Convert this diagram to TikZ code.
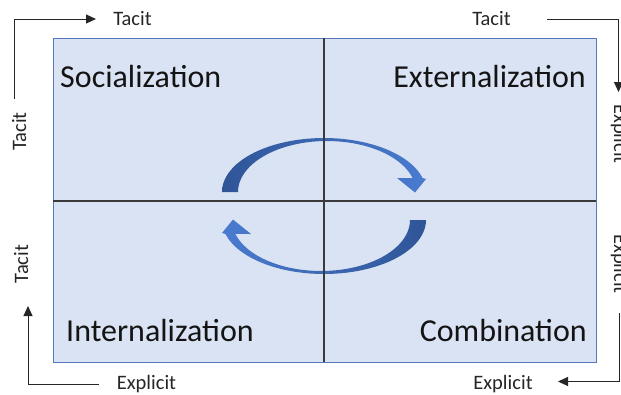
\documentclass[tikz,border=0pt]{standalone}
\usepackage{fontspec}
\setmainfont{Carlito}
\usetikzlibrary{arrows.meta}
\definecolor{boxfill}{HTML}{DAE3F3}
\definecolor{boxline}{HTML}{5478BA}
\definecolor{divline}{HTML}{3A3A3A}
\definecolor{darkblue}{HTML}{2F5597}
\definecolor{lightblue}{HTML}{4A7BD0}
\definecolor{txt}{HTML}{141414}
\definecolor{smalltxt}{HTML}{262626}
\begin{document}
\begin{tikzpicture}[x=1pt,y=-1pt,
  quadbox/.style={draw=boxline, fill=boxfill, line width=1pt, inner sep=0pt,
    minimum width=543pt, minimum height=324pt},
  divider/.style={draw=divline, line width=1.1pt},
  big/.style={inner sep=0pt, text=txt, font=\fontsize{32}{36}\selectfont},
  small/.style={inner sep=0pt, text=smalltxt, font=\fontsize{20.5}{24}\selectfont},
  conn/.style={draw=black!85, line width=1pt, -{Triangle[length=10pt,width=9pt]}}]
\useasboundingbox (0,0) rectangle (621,394);

% quadrant box
\node[quadbox] (box) at (324.5,200) {};

% cycle arrows
\shade[left color=darkblue, right color=lightblue]
  plot[domain=180:15, samples=50] ({324+102*cos(\x)},{192-54*sin(\x)})
  -- (426,179) -- (415,192.5) -- (397,178)
  -- plot[domain=15.9:180, samples=50] ({327+89*cos(\x)},{192-51*sin(\x)}) -- cycle;
\shade[left color=lightblue, right color=darkblue]
  plot[domain=180:15, samples=50] ({324-102*cos(\x)},{220+54*sin(\x)})
  -- (222,233) -- (233,219.5) -- (251,234)
  -- plot[domain=15.9:180, samples=50] ({321-89*cos(\x)},{220+51*sin(\x)}) -- cycle;

% dividers
\coordinate (vtop) at (324,38);
\coordinate (vbot) at (324,362);
\coordinate (hleft) at (53,201);
\coordinate (hright) at (596,201);
\draw[divider] (vtop) -- (vbot);
\draw[divider] (hleft) -- (hright);

% quadrant labels
\node[big, anchor=base west] (soc) at (60,87) {Socialization};
\node[big, anchor=base east] (ext) at (586,87) {Externalization};
\node[big, anchor=base west] (int) at (66,341) {Internalization};
\node[big, anchor=base east] (com) at (587,341) {Combination};

% axis labels
\node[small, anchor=base] (tacitTL) at (132.5,25) {Tacit};
\node[small, anchor=base] (tacitTR) at (491.5,25) {Tacit};
\node[small, anchor=base] (explBL) at (146.5,389) {Explicit};
\node[small, anchor=base] (explBR) at (503,389) {Explicit};
\node[small, anchor=base, rotate=90] (tacitL1) at (26,131.5) {Tacit};
\node[small, anchor=base, rotate=90] (tacitL2) at (28,264) {Tacit};
\node[small, anchor=base, rotate=-90] (explR1) at (614,134) {Explicit};
\node[small, anchor=base, rotate=-90] (explR2) at (614,264) {Explicit};

% corner arrows
\coordinate (tl0) at (14,99);
\coordinate (tl1) at (96,19);
\draw[conn] (tl0) |- (tl1);
\coordinate (tr0) at (547,19);
\coordinate (tr1) at (618.5,92);
\draw[conn] (tr0) -| (tr1);
\coordinate (bl0) at (99,384);
\coordinate (bl1) at (28,306);
\draw[conn] (bl0) -| (bl1);
\coordinate (br0) at (619,313);
\coordinate (br1) at (558,381.5);
\draw[conn] (br0) |- (br1);
\end{tikzpicture}
\end{document}
